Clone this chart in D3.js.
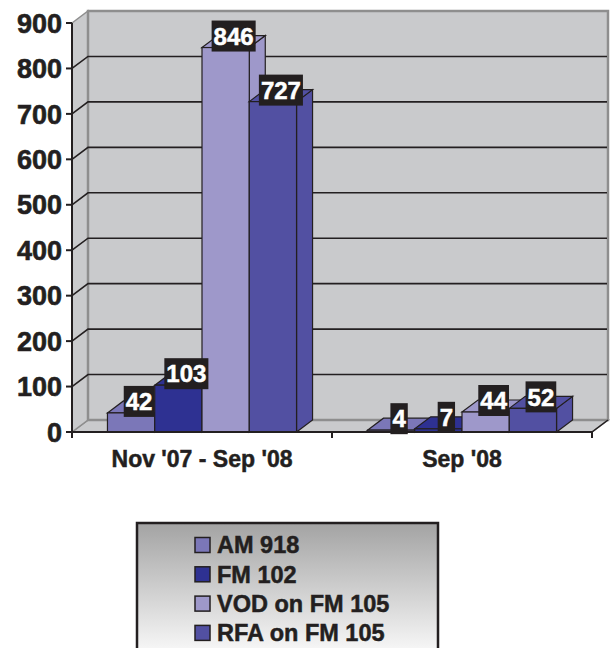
<!DOCTYPE html>
<html>
<head>
<meta charset="utf-8">
<script src="https://cdn.jsdelivr.net/npm/d3@7"></script>
<style>
  html, body { margin: 0; padding: 0; background: #fff; }
  text { font-family: "Liberation Sans", Arial, sans-serif; font-weight: bold; }
</style>
</head>
<body>
<div id="chart"></div>
<script>
var categories = ["Nov '07 - Sep '08", "Sep '08"];
var series = ["AM 918", "FM 102", "VOD on FM 105", "RFA on FM 105"];
var colors = ["#7b77b8", "#2e3192", "#9e98ca", "#5250a2"];
var values = [
    [42, 4],
    [103, 7],
    [846, 44],
    [727, 52]
];
var yTicks = [0, 100, 200, 300, 400, 500, 600, 700, 800, 900];

var width = 614, height = 648;
var dx = 16, dy = -12;   // depth of the 3d box
var ink = "#231f20";

var svg = d3.select("#chart").append("svg")
    .attr("width", width)
    .attr("height", height);

var y = d3.scaleLinear().domain([0, 900]).range([432, 23]);
var x0 = d3.scaleBand().domain(categories).range([72, 592]);
var x1 = d3.scaleBand().domain(series).range([0, x0.bandwidth()])
    .paddingInner(0).paddingOuter(0.75);

var xLeft = x0.range()[0], xRight = x0.range()[1];
var yTop = y(900), yBase = y(0);

// walls and floor
function pts(a){ return a.map(function(p){ return p.join(","); }).join(" "); }
var wallFill = "#c9cacc", wallEdge = "#8e8e8e";

svg.append("polygon")   // floor
    .attr("points", pts([[xLeft, yBase], [xLeft+dx, yBase+dy], [xRight+dx, yBase+dy], [xRight, yBase]]))
    .style("fill", wallFill).style("stroke", wallEdge).style("stroke-width", 1.5);
svg.append("polygon")   // side wall
    .attr("points", pts([[xLeft, yTop], [xLeft+dx, yTop+dy], [xLeft+dx, yBase+dy], [xLeft, yBase]]))
    .style("fill", wallFill).style("stroke", wallEdge).style("stroke-width", 1.5);
svg.append("rect")      // back wall
    .attr("x", xLeft+dx).attr("y", yTop+dy)
    .attr("width", xRight-xLeft).attr("height", yBase-yTop)
    .style("fill", wallFill).style("stroke", wallEdge).style("stroke-width", 2.5);

// gridlines on back wall and side wall
var grid = yTicks.filter(function(v){ return v > 0 && v < 900; });
svg.selectAll(".grid").data(grid).enter().append("polyline")
    .attr("class", "grid")
    .attr("points", function(v){ return pts([[xLeft, y(v)], [xLeft+dx, y(v)+dy], [xRight+dx-1, y(v)+dy]]); })
    .style("fill", "none").style("stroke", ink).style("stroke-width", 1.6);

// bars
categories.forEach(function(cat, ci){
    series.forEach(function(s, si){
        var v = values[si][ci];
        var bx = x0(cat) + x1(s), bw = x1.bandwidth();
        var by = y(v), bb = y(0);
        var g = svg.append("g").attr("class", "bar");
        g.append("polygon")  // side
            .attr("points", pts([[bx+bw, by], [bx+bw+dx, by+dy], [bx+bw+dx, bb+dy], [bx+bw, bb]]))
            .style("fill", colors[si]).style("stroke", ink).style("stroke-width", 1.2);
        g.append("polygon")  // top
            .attr("points", pts([[bx, by], [bx+dx, by+dy], [bx+bw+dx, by+dy], [bx+bw, by]]))
            .style("fill", colors[si]).style("stroke", ink).style("stroke-width", 1.2);
        g.append("rect")     // front
            .attr("x", bx).attr("y", by).attr("width", bw).attr("height", bb - by)
            .style("fill", colors[si]).style("stroke", ink).style("stroke-width", 1.2);
    });
});

// axes
svg.append("line").attr("x1", xLeft).attr("x2", xLeft).attr("y1", yTop).attr("y2", yBase + 5)
    .style("stroke", ink).style("stroke-width", 2);
svg.append("line").attr("x1", xLeft).attr("x2", xRight).attr("y1", yBase).attr("y2", yBase)
    .style("stroke", ink).style("stroke-width", 2);
svg.append("line").attr("x1", xRight).attr("x2", xRight+dx).attr("y1", yBase).attr("y2", yBase+dy)
    .style("stroke", ink).style("stroke-width", 1.5);
svg.selectAll(".ytick").data(yTicks).enter().append("line")
    .attr("x1", xLeft - 6).attr("x2", xLeft)
    .attr("y1", function(v){ return y(v); }).attr("y2", function(v){ return y(v); })
    .style("stroke", ink).style("stroke-width", 2);
svg.selectAll(".ylab").data(yTicks).enter().append("text")
    .attr("x", xLeft - 10).attr("y", function(v){ return y(v); })
    .attr("dy", "0.36em")
    .attr("text-anchor", "end")
    .style("font-size", "27px").style("fill", ink)
    .style("stroke", ink).style("stroke-width", 0.6)
    .text(function(v){ return v; });
var xTickPos = [xLeft].concat(categories.map(function(c){ return x0(c) + x0.bandwidth(); }));
svg.selectAll(".xtick").data(xTickPos).enter().append("line")
    .attr("x1", function(p){ return p; }).attr("x2", function(p){ return p; })
    .attr("y1", yBase).attr("y2", yBase + 6)
    .style("stroke", ink).style("stroke-width", 2);
svg.selectAll(".xlab").data(categories).enter().append("text")
    .attr("x", function(c){ return x0(c) + x0.bandwidth()/2; })
    .attr("y", 467)
    .attr("text-anchor", "middle")
    .style("font-size", "23px").style("fill", ink)
    .style("stroke", ink).style("stroke-width", 0.5)
    .text(function(c){ return c; });

// data labels
categories.forEach(function(cat, ci){
    series.forEach(function(s, si){
        var v = values[si][ci];
        var cx = x0(cat) + x1(s) + x1.bandwidth()/2 + 8;
        var cy = y(v) - 11.5;
        var g = svg.append("g");
        var t = g.append("text")
            .attr("x", cx).attr("y", cy).attr("dy", "0.36em")
            .attr("text-anchor", "middle")
            .style("font-size", "24px").style("fill", "#fff")
            .style("stroke", "#fff").style("stroke-width", 0.5)
            .text(v);
        var w = t.node().getComputedTextLength() + 4;
        g.insert("rect", "text")
            .attr("x", cx - w/2).attr("y", cy - 15.5)
            .attr("width", w).attr("height", 31)
            .style("fill", ink);
    });
});

// legend
var defs = svg.append("defs");
var grad = defs.append("linearGradient").attr("id", "legGrad")
    .attr("x1", 0).attr("y1", 0).attr("x2", 0).attr("y2", 1);
grad.append("stop").attr("offset", "0").attr("stop-color", "#a3a3a3");
grad.append("stop").attr("offset", "1").attr("stop-color", "#ffffff");

svg.append("rect")
    .attr("x", 137).attr("y", 523).attr("width", 301).attr("height", 140)
    .style("fill", "url(#legGrad)").style("stroke", ink).style("stroke-width", 2.5);

var leg = svg.selectAll(".leg").data(series).enter().append("g")
    .attr("transform", function(d, i){ return "translate(195," + (545 + i*29.3) + ")"; });
leg.append("rect")
    .attr("x", 0).attr("y", -7.5).attr("width", 15).attr("height", 15)
    .style("fill", function(d, i){ return colors[i]; })
    .style("stroke", ink).style("stroke-width", 1.5);
leg.append("text")
    .attr("x", 22).attr("y", 0).attr("dy", "0.36em")
    .style("font-size", "23.5px").style("fill", ink)
    .style("stroke", ink).style("stroke-width", 0.5)
    .text(function(d){ return d; });
</script>
</body>
</html>
